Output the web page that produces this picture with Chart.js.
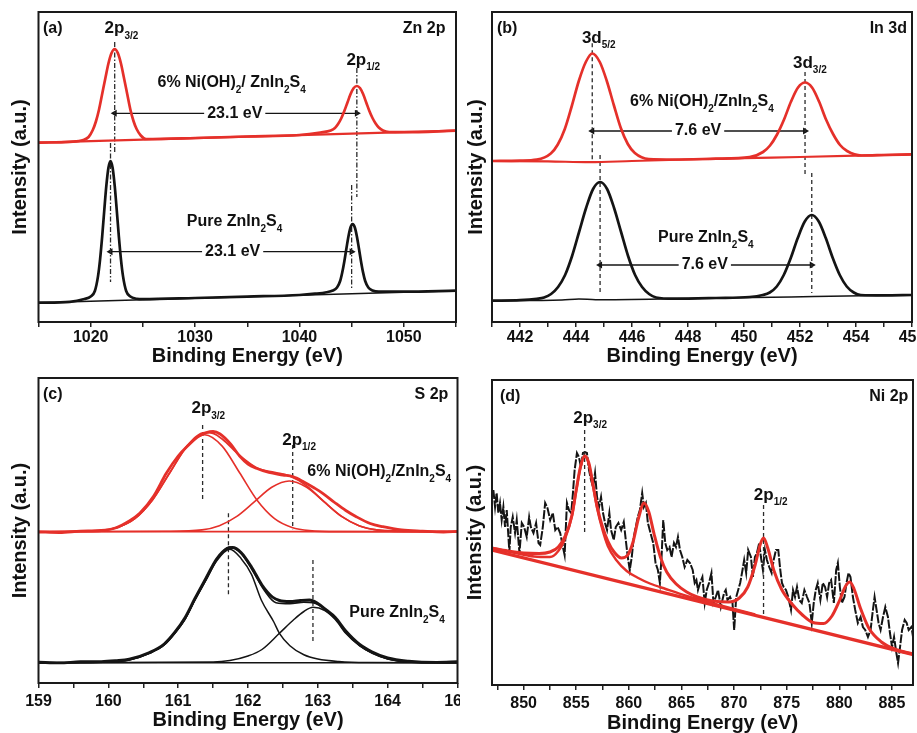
<!DOCTYPE html>
<html><head><meta charset="utf-8">
<script src="https://cdn.jsdelivr.net/npm/chart.js@4"></script>
<style>
body{margin:0;background:#fff;width:917px;height:733px;position:relative;overflow:hidden}
canvas{position:absolute}
</style></head><body>
<canvas id="ca" style="left:0;top:0" width="460" height="370"></canvas>
<canvas id="cb" style="left:460px;top:0" width="457" height="370"></canvas>
<canvas id="cc" style="left:0;top:370px" width="460" height="363"></canvas>
<canvas id="cd" style="left:460px;top:370px" width="457" height="363"></canvas>
<script>
// ---------- Panel (a) Zn 2p ----------
const aTicks = [1015,1020,1025,1030,1035,1040,1045,1050,1055];
const aLabels = [1020,1030,1040,1050];
const aBlackFit = [[1015,19.3],[1018,20.2],[1019.4,23],[1020.0,25.5],[1020.4,31],[1020.7,45.6],[1020.9,62.7],[1021.1,85.4],[1021.3,111.5],[1021.5,136.3],[1021.7,154.3],[1021.9,161],[1022.1,154.3],[1022.3,136.3],[1022.5,111.5],[1022.7,85.4],[1022.9,62.7],[1023.1,45.6],[1023.4,31],[1023.8,25.5],[1024.4,23.3],[1025,22.8],[1030,24],[1035,25.4],[1040,27],[1041.5,28.3],[1042.6,29.8],[1043.2,31.5],[1043.6,34.5],[1043.9,41],[1044.1,49.5],[1044.3,60.6],[1044.5,73.5],[1044.7,85.8],[1044.9,94.7],[1045.1,98],[1045.3,94.7],[1045.5,85.8],[1045.7,73.5],[1045.9,60.6],[1046.1,49.4],[1046.3,41],[1046.6,34.5],[1047.0,31.5],[1047.6,30.3],[1050,30.3],[1055,31.3]];
const aBlackBase = [[1015,19.3],[1025,22.3],[1035,25.3],[1045,28.3],[1055,31.3]];
const aRedFit = [[1015,179.3],[1018,180.2],[1019.3,182],[1019.8,185],[1020.2,192],[1020.5,200.5],[1020.8,212.5],[1021.1,228],[1021.4,243.5],[1021.7,258.5],[1022.0,269],[1022.3,273],[1022.6,269],[1022.9,258.5],[1023.2,243.5],[1023.5,228],[1023.8,212.5],[1024.1,201],[1024.4,193],[1024.8,186.5],[1025.3,183],[1030,184],[1035,185.5],[1040,187],[1042,189.5],[1043.0,191.5],[1043.4,194],[1043.7,198],[1044.0,203.5],[1044.3,211],[1044.6,219.5],[1044.9,228],[1045.2,234],[1045.5,236],[1045.8,234],[1046.1,228],[1046.4,219.5],[1046.7,211],[1047.0,204],[1047.3,198.5],[1047.6,194.5],[1048.0,191.5],[1048.6,190],[1050,189.8],[1055,191.3]];
const aRedBase = [[1015,179.3],[1025,182.3],[1035,185.3],[1045,188.3],[1055,191.3]];

// ---------- Panel (b) In 3d ----------
const bTicks = [441,442,443,444,445,446,447,448,449,450,451,452,453,454,455,456];
const bLabels = [442,444,446,448,450,452,454,456];
const bBlackFit = [[441,21.3],[442,21.8],[442.6,23.2],[442.86,24.5],[443.11,28],[443.36,35],[443.61,47],[443.86,66],[444.11,90],[444.36,114],[444.61,133],[444.86,140],[445.11,133],[445.36,114],[445.61,90],[445.86,66],[446.11,47],[446.36,35],[446.61,28],[446.86,24.5],[447.5,23.3],[449,24],[450.2,25],[450.67,27],[450.92,29.5],[451.17,35.5],[451.42,47],[451.67,64],[451.92,84],[452.17,100.5],[452.42,107],[452.67,100.5],[452.92,84],[453.17,64],[453.42,47],[453.67,35.5],[453.92,29.5],[454.17,27],[455,26.6],[456,27]];
const bBlackBase = [[441,21.3],[443.5,22],[444.1,23],[444.7,22.3],[448,23.5],[451,24.8],[452.5,25.4],[456,27]];
const bRedFit = [[441,161],[442,161.3],[442.6,162.3],[443.1,168.5],[443.35,177.5],[443.6,193],[443.85,216],[444.1,241],[444.35,260],[444.58,268.5],[444.85,260],[445.1,241],[445.35,217],[445.6,194],[445.85,178],[446.1,169],[446.6,163],[447.5,162.5],[449,163.3],[450.2,164.8],[450.68,170],[450.93,176.5],[451.18,187.5],[451.43,202.5],[451.68,220.5],[451.93,234.5],[452.18,239.5],[452.43,234.5],[452.68,220.5],[452.93,202.5],[453.18,188],[453.43,177],[453.68,171],[454.2,166.5],[455,167],[456,167.7]];
const bRedBase = [[441,161],[443,160.6],[444.5,159.8],[446,161],[448,162.5],[450,163.8],[452,165],[454,166.3],[456,167.7]];

// ---------- Panel (c) S 2p ----------
const cTicks = [159,159.5,160,160.5,161,161.5,162,162.5,163,163.5,164,164.5,165];
const cLabels = [159,160,161,162,163,164,165];
const cRedData = [[159,151],[159.3,150.5],[159.6,151.8],[159.9,152.5],[160.1,155],[160.3,162],[160.45,169.7],[160.65,187],[160.83,209.7],[161.0,227],[161.12,236],[161.3,247],[161.5,251.5],[161.6,249],[161.75,239],[161.88,227],[162.0,219],[162.12,214.7],[162.3,210.5],[162.5,208],[162.64,206.3],[162.8,201],[162.95,195],[163.07,189.7],[163.25,180],[163.4,172.5],[163.55,166.3],[163.75,159.5],[163.93,156.3],[164.2,153],[164.5,151.8],[164.8,151],[165,151.5]];
const cRedFit = [[159,151.3],[159.88,152.6],[160.13,155.6],[160.38,164.4],[160.63,182.8],[160.88,210.3],[161.13,237.4],[161.38,250.5],[161.5,249.6],[161.63,244],[161.88,227.6],[162.13,215.1],[162.38,210.6],[162.59,207.2],[162.84,197.1],[163.09,181.3],[163.34,166.6],[163.59,157.3],[163.84,153.1],[164.09,151.7],[165,151.3]];
const cRedP1 = [[159,151.3],[159.88,152.4],[160.13,155.6],[160.38,164.4],[160.63,182.8],[160.88,210.2],[161.13,236.9],[161.38,248.3],[161.63,236.9],[161.88,210.2],[162.13,182.8],[162.38,164.4],[162.63,155.6],[162.88,152.4],[163.3,151.4],[165,151.3]];
const cRedP2 = [[159,151.3],[160.84,151.7],[161.34,153.1],[161.59,157.3],[161.84,166.6],[162.09,181.1],[162.34,195.7],[162.59,202],[162.84,195.7],[163.09,181.1],[163.34,166.6],[163.59,157.3],[163.84,153.1],[164.34,151.7],[165,151.3]];
const cRedBase = [[159,151.3],[165,151.3]];
const cBlackData = [[159,20.8],[159.3,20.1],[159.6,21.2],[159.9,21.4],[160.1,22.3],[160.3,23.8],[160.59,30.5],[160.8,39],[160.95,50.5],[161.1,65.5],[161.24,84.5],[161.4,105],[161.55,124],[161.7,134.5],[161.78,135.5],[161.9,130.5],[162.05,116],[162.2,98],[162.35,86],[162.45,82.5],[162.6,81.5],[162.75,82.5],[162.88,83],[163.0,79.5],[163.12,73],[163.25,65.5],[163.4,52],[163.6,38.5],[163.78,31],[164.0,25],[164.3,21.8],[164.7,20.6],[165,21.2]];
const cBlackFit = [[159,20.3],[159.5,20.5],[160.0,21],[160.3,23],[160.59,29.7],[160.8,38],[160.95,49.7],[161.1,64],[161.24,83],[161.4,103.5],[161.55,123],[161.74,136],[161.9,129.5],[162.05,114.3],[162.24,92],[162.4,80.3],[162.6,79.3],[162.8,80.9],[162.93,80.3],[163.1,74.3],[163.25,64.5],[163.4,50.5],[163.6,37.5],[163.78,30],[164.0,24.2],[164.3,21.2],[165,20.3]];
const cBlackP1 = [[159,20.3],[160.0,21],[160.3,23],[160.59,29.7],[160.8,38],[160.95,49.7],[161.1,64],[161.24,83],[161.4,103],[161.55,122],[161.74,133.7],[161.9,124.6],[162.05,108.7],[162.19,83],[162.37,61],[162.45,49.7],[162.6,37.3],[162.8,28.2],[163.0,24],[163.3,21.5],[163.7,20.5],[165,20.3]];
const cBlackP2 = [[159,20.3],[161.5,21],[161.74,22.5],[162.0,27],[162.2,33.5],[162.45,49.7],[162.65,63],[162.8,71.5],[162.93,75.7],[163.1,72.5],[163.25,63.5],[163.4,49.7],[163.6,37],[163.78,29.7],[164.0,24],[164.3,21],[165,20.3]];
const cBlackBase = [[159,20.3],[165,20.3]];

// ---------- Panel (d) Ni 2p ----------
const dTicks = [847.5,850,852.5,855,857.5,860,862.5,865,867.5,870,872.5,875,877.5,880,882.5,885];
const dLabels = [850,855,860,865,870,875,880,885];
const dNoise = [[847.13,195],[847.29,178],[847.44,192],[847.60,172],[847.76,182],[847.92,165],[848.08,178],[848.24,158],[848.40,175],[848.65,133],[848.78,158],[848.97,168],[849.19,152],[849.35,165],[849.61,132],[849.83,162],[850.05,158],[850.30,148],[850.53,168],[850.69,158],[850.94,152],[851.19,162],[851.42,142],[851.58,140],[851.83,158],[852.05,182],[852.27,177],[852.53,165],[852.78,172],[853.01,155],[853.23,158],[853.48,152],[853.74,138],[853.90,130],[854.12,182],[854.31,175],[854.53,172],[854.69,192],[854.85,215],[855.07,232],[855.26,228],[855.45,218],[855.64,232],[855.83,233],[856.02,232],[856.22,215],[856.41,205],[856.60,198],[856.79,212],[856.98,188],[857.17,178],[857.36,188],[857.55,172],[857.74,162],[857.93,155],[858.15,172],[858.31,155],[858.57,145],[858.76,158],[859.01,162],[859.27,155],[859.52,163],[859.71,145],[859.90,128],[860.09,115],[860.28,128],[860.47,148],[860.66,158],[860.85,168],[861.05,175],[861.27,192],[861.43,178],[861.62,182],[861.81,162],[862.06,152],[862.32,142],[862.54,122],[862.76,115],[862.95,102],[863.11,128],[863.27,165],[863.46,142],[863.65,135],[863.87,138],[864.06,128],[864.29,142],[864.48,138],[864.67,148],[864.86,135],[865.08,128],[865.30,118],[865.56,125],[865.81,122],[866.07,115],[866.26,102],[866.42,105],[866.57,95],[866.77,102],[866.99,108],[867.21,82],[867.40,95],[867.62,102],[867.85,112],[868.04,82],[868.26,88],[868.48,95],[868.74,78],[869.05,92],[869.21,95],[869.37,85],[869.62,88],[869.85,82],[870.01,55],[870.20,88],[870.39,95],[870.58,102],[870.80,115],[870.96,125],[871.15,112],[871.34,135],[871.60,128],[871.79,108],[871.98,128],[872.17,132],[872.39,142],[872.55,128],[872.74,115],[872.93,135],[873.12,125],[873.34,118],[873.57,112],[873.76,125],[873.98,135],[874.20,135],[874.39,115],[874.55,102],[874.71,98],[874.93,95],[875.15,88],[875.41,75],[875.60,95],[875.79,88],[875.98,98],[876.20,85],[876.43,82],[876.68,95],[876.93,88],[877.16,82],[877.38,62],[877.57,82],[877.76,95],[877.95,102],[878.20,85],[878.43,102],[878.65,98],[878.84,88],[879.03,102],[879.22,105],[879.48,82],[879.70,115],[879.86,122],[880.05,98],[880.24,82],[880.49,88],[880.68,102],[880.87,112],[881.06,108],[881.29,88],[881.51,75],[881.76,62],[882.02,68],[882.24,58],[882.46,55],[882.72,48],[882.97,55],[883.19,75],[883.35,88],[883.54,75],[883.73,62],[883.92,55],[884.15,68],[884.37,78],[884.62,68],[884.81,52],[885.01,38],[885.20,48],[885.42,32],[885.58,22],[885.77,38],[885.96,55],[886.21,65],[886.40,62],[886.59,55],[886.85,58],[887.10,42]];
const dFit = [[847,137],[848.5,134],[850,132],[851.5,131.5],[852.5,133],[853.3,138],[854.0,150],[854.6,170],[855.0,195],[855.4,218],[855.8,229],[856.2,222],[856.6,200],[857.0,178],[857.5,158],[858.0,144],[858.6,133],[859.3,127],[859.9,130],[860.4,143],[860.9,166],[861.45,182],[861.9,173],[862.4,151],[863.0,128],[863.6,113],[864.5,101],[865.5,93],[866.5,88],[868,84],[869.5,83],[870.5,87],[871.3,98],[872.0,120],[872.5,141],[872.8,147],[873.2,137],[873.8,114],[874.5,96],[875.5,81],[876.5,70],[877.5,62.5],[878.5,61.5],[879.3,69],[880.0,84],[880.6,99],[881.0,103],[881.4,96],[882.0,77],[882.8,57],[884.0,43],[885.5,35],[887,31]];
const dComp1 = [[847,137],[849,132.5],[851,128.5],[852.5,128],[853.3,134],[854.0,148],[854.6,169],[855.0,194],[855.4,217],[855.8,229],[856.2,221],[856.6,199],[857.0,176],[857.5,155],[858.0,139],[858.8,125],[859.8,114],[860.8,107.5],[862.0,101.5],[863.5,96],[865.5,89],[867.5,83],[869.8,76.5],[872,70.5]];
const dBase = [[847,135],[887.2,30]];

const RED = '#e5302a', BLK = '#141414', GUIDE = '#2a2a2a';
const FONT = '"Liberation Sans", Arial, sans-serif';
Chart.defaults.font.family = FONT;
Chart.defaults.font.weight = 'bold';

function S(d, c, w, extra) { return Object.assign({ d: d, c: c, w: w, smooth: true }, extra || {}); }
function guide(x, y0, y1, dash) { return { d: [[x, y0], [x, y1]], c: GUIDE, w: 1.3, dash: dash, smooth: false }; }
function arrow(x0, x1, y) { return { d: [[x0, y], [x1, y]], c: BLK, w: 1.3, smooth: false, arrow: true }; }

const textPlugin = {
  id: 'xpsText',
  afterDatasetsDraw(chart, args, opts) {
    const ctx = chart.ctx, xs = chart.scales.x, ys = chart.scales.y, ca = chart.chartArea;
    ctx.save();
    (opts.items || []).forEach(it => {
      let px, py;
      if (it.corner === 'tl') { px = ca.left + it.dx; py = ca.top + it.dy; }
      else if (it.corner === 'tr') { px = ca.right - it.dx; py = ca.top + it.dy; }
      else { px = xs.getPixelForValue(it.x); py = ys.getPixelForValue(it.y); }
      const size = it.size || 16, sub = 10;
      let w = 0;
      const parts = it.parts.map(p => {
        const f = 'bold ' + (p[1] ? sub : size) + 'px ' + FONT;
        ctx.font = f;
        const pw = ctx.measureText(p[0]).width;
        w += pw;
        return { t: p[0], s: p[1], f: f, pw: pw };
      });
      let x0 = it.align === 'center' ? px - w / 2 : (it.align === 'right' ? px - w : px);
      if (it.bg) { ctx.fillStyle = '#fff'; ctx.fillRect(x0 - 3, py - size * 0.55, w + 6, size * 1.1); }
      ctx.fillStyle = '#111'; ctx.textBaseline = 'middle'; ctx.textAlign = 'left';
      parts.forEach(p => { ctx.font = p.f; ctx.fillText(p.t, x0, p.s ? py + size * 0.45 : py); x0 += p.pw; });
    });
    ctx.restore();
  }
};
const boxPlugin = {
  id: 'xpsBox',
  afterDraw(chart) {
    const ca = chart.chartArea, ctx = chart.ctx;
    ctx.save(); ctx.strokeStyle = '#1a1a1a'; ctx.lineWidth = 2;
    ctx.strokeRect(ca.left, ca.top, ca.right - ca.left, ca.bottom - ca.top);
    ctx.restore();
  }
};

function makeChart(id, cfg) {
  const datasets = cfg.series.map(s => ({
    data: s.d.map(p => ({ x: p[0], y: p[1] })),
    borderColor: s.c, backgroundColor: s.c, borderWidth: s.w, borderDash: s.dash || [],
    pointRadius: s.arrow ? 4 : 0, pointHoverRadius: 0, pointStyle: 'triangle',
    pointRotation: s.arrow ? (c => c.dataIndex === 0 ? -90 : 90) : 0,
    pointBackgroundColor: s.c, pointBorderColor: s.c, pointBorderWidth: 0,
    tension: s.smooth ? 0.4 : 0, cubicInterpolationMode: s.smooth ? 'monotone' : 'default',
    fill: false, showLine: true
  }));
  return new Chart(document.getElementById(id), {
    type: 'line',
    data: { datasets: datasets },
    options: {
      responsive: false, animation: false, devicePixelRatio: 1,
      layout: { padding: { top: cfg.padTop, right: cfg.padRight, bottom: 0, left: 0 } },
      plugins: { legend: { display: false }, tooltip: { enabled: false }, xpsText: { items: cfg.items } },
      scales: {
        x: {
          type: 'linear', min: cfg.xmin, max: cfg.xmax,
          afterBuildTicks: s => { s.ticks = cfg.ticks.map(v => ({ value: v })); },
          ticks: { autoSkip: false, maxRotation: 0, minRotation: 0, padding: cfg.tickPad, color: '#111',
                   font: { size: 16, weight: 'bold' },
                   callback: v => cfg.labels.includes(v) ? String(v) : '' },
          grid: { display: true, drawOnChartArea: false, drawTicks: true, tickLength: 5, color: '#222', lineWidth: 1.5 },
          border: { display: false },
          title: { display: true, text: 'Binding Energy (eV)', color: '#111', font: { size: 20, weight: 'bold', lineHeight: 1 },
                   padding: { top: 0, bottom: cfg.xtPad } },
          afterFit: s => { s.height = cfg.xH; s.paddingLeft = 0; s.paddingRight = 0; }
        },
        y: {
          min: 0, max: cfg.ymax,
          ticks: { display: false }, grid: { display: false }, border: { display: false },
          title: { display: true, text: 'Intensity (a.u.)', color: '#111', font: { size: 20, weight: 'bold', lineHeight: 1 },
                   padding: { top: cfg.ytPad, bottom: 0 } },
          afterFit: s => { s.width = cfg.yW; s.paddingTop = 0; s.paddingBottom = 0; }
        }
      }
    },
    plugins: [textPlugin, boxPlugin]
  });
}

const DD = [5, 2, 1.5, 2], DS = [4, 3];

makeChart('ca', {
  xmin: 1015, xmax: 1055, ymax: 310, ticks: aTicks, labels: aLabels,
  padTop: 12, padRight: 1.5, yW: 38.5, xH: 48, tickPad: 1, xtPad: 3.3, ytPad: 10.5,
  series: [
    S(aRedFit, RED, 2.7), S(aRedBase, RED, 2.2),
    S(aBlackFit, BLK, 2.7), S(aBlackBase, BLK, 1.5),
    guide(1022.3, 280, 169, DD), guide(1021.9, 179, 40, DD), guide(1045.5, 254, 125, DD), guide(1045.0, 137, 32, DD),
    arrow(1022.3, 1045.5, 208.7), arrow(1021.9, 1045.0, 70.3)
  ],
  items: [
    { corner: 'tl', dx: 4.5, dy: 17, parts: [['(a)']] },
    { corner: 'tr', dx: 10.5, dy: 17, align: 'right', parts: [['Zn 2p']] },
    { x: 1021.33, y: 293.7, size: 17, parts: [['2p'], ['3/2', 1]] },
    { x: 1044.5, y: 262, size: 17, parts: [['2p'], ['1/2', 1]] },
    { x: 1026.4, y: 239.3, parts: [['6% Ni(OH)'], ['2', 1], ['/ ZnIn'], ['2', 1], ['S'], ['4', 1]] },
    { x: 1033.8, y: 208.7, align: 'center', bg: true, parts: [['23.1 eV']] },
    { x: 1029.2, y: 100.3, parts: [['Pure ZnIn'], ['2', 1], ['S'], ['4', 1]] },
    { x: 1033.6, y: 70.3, align: 'center', bg: true, parts: [['23.1 eV']] }
  ]
});

makeChart('cb', {
  xmin: 441, xmax: 456, ymax: 310, ticks: bTicks, labels: bLabels,
  padTop: 12, padRight: 5, yW: 32, xH: 48, tickPad: 1, xtPad: 3.3, ytPad: 6.5,
  series: [
    S(bRedFit, RED, 2.7), S(bRedBase, RED, 2.2),
    S(bBlackFit, BLK, 2.7), S(bBlackBase, BLK, 1.5),
    guide(444.58, 278.7, 159, DS), guide(444.86, 167, 29, DS), guide(452.18, 250, 145, DS), guide(452.42, 149, 29, DS),
    arrow(444.58, 452.18, 191), arrow(444.86, 452.42, 57)
  ],
  items: [
    { corner: 'tl', dx: 5, dy: 17, parts: [['(b)']] },
    { corner: 'tr', dx: 5, dy: 17, align: 'right', parts: [['In 3d']] },
    { x: 444.21, y: 284, size: 17, parts: [['3d'], ['5/2', 1]] },
    { x: 451.75, y: 259, size: 17, parts: [['3d'], ['3/2', 1]] },
    { x: 445.93, y: 220, parts: [['6% Ni(OH)'], ['2', 1], ['/ZnIn'], ['2', 1], ['S'], ['4', 1]] },
    { x: 448.36, y: 191, align: 'center', bg: true, parts: [['7.6 eV']] },
    { x: 446.93, y: 84, parts: [['Pure ZnIn'], ['2', 1], ['S'], ['4', 1]] },
    { x: 448.6, y: 57, align: 'center', bg: true, parts: [['7.6 eV']] }
  ]
});

makeChart('cc', {
  xmin: 159, xmax: 165, ymax: 305, ticks: cTicks, labels: cLabels,
  padTop: 8, padRight: 2.5, yW: 38.5, xH: 50, tickPad: 4, xtPad: 3, ytPad: 10,
  series: [
    S(cRedData, RED, 2.8), S(cRedFit, RED, 1.7), S(cRedP1, RED, 1.6), S(cRedP2, RED, 1.6), S(cRedBase, RED, 1.8),
    S(cBlackData, BLK, 2.9), S(cBlackFit, BLK, 1.6), S(cBlackP1, BLK, 1.5), S(cBlackP2, BLK, 1.5), S(cBlackBase, BLK, 1.6),
    guide(161.35, 258, 182, DS), guide(162.64, 238, 153.7, DS), guide(161.72, 169.7, 86.3, DS), guide(162.93, 123, 39.7, DS)
  ],
  items: [
    { corner: 'tl', dx: 4.5, dy: 17, parts: [['(c)']] },
    { corner: 'tr', dx: 9.2, dy: 17, align: 'right', parts: [['S 2p']] },
    { x: 161.19, y: 274.7, size: 17, parts: [['2p'], ['3/2', 1]] },
    { x: 162.49, y: 243, size: 17, parts: [['2p'], ['1/2', 1]] },
    { x: 162.85, y: 211.3, parts: [['6% Ni(OH)'], ['2', 1], ['/ZnIn'], ['2', 1], ['S'], ['4', 1]] },
    { x: 163.45, y: 70.3, parts: [['Pure ZnIn'], ['2', 1], ['S'], ['4', 1]] }
  ]
});

makeChart('cd', {
  xmin: 847, xmax: 887, ymax: 305, ticks: dTicks, labels: dLabels,
  padTop: 10, padRight: 4, yW: 32, xH: 48, tickPad: 4, xtPad: 0, ytPad: 5,
  series: [
    S(dFit, RED, 3), S(dComp1, RED, 2.4), S(dBase, RED, 3.2, { smooth: false }),
    guide(855.8, 255, 150, DS), guide(872.8, 180, 67, DS),
    S(dNoise, BLK, 2, { smooth: false, dash: [9, 1.5] })
  ],
  items: [
    { corner: 'tl', dx: 8, dy: 17, parts: [['(d)']] },
    { corner: 'tr', dx: 4.7, dy: 17, align: 'right', parts: [['Ni 2p']] },
    { x: 854.72, y: 267, size: 17, parts: [['2p'], ['3/2', 1]] },
    { x: 871.88, y: 190, size: 17, parts: [['2p'], ['1/2', 1]] }
  ]
});
</script>
</body></html>
